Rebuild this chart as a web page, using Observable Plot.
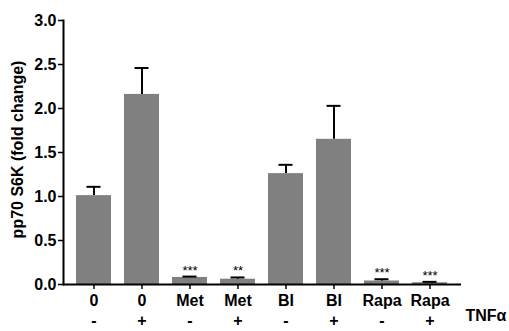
<!DOCTYPE html>
<html><head><meta charset="utf-8">
<script src="https://cdn.jsdelivr.net/npm/d3@7"></script>
<script src="https://cdn.jsdelivr.net/npm/@observablehq/plot@0.6"></script>
<style>body{margin:0;background:#fff}</style>
</head><body><div id="chart"></div>
<script>
const keys = ["0-", "0+", "Met-", "Met+", "BI-", "BI+", "Rapa-", "Rapa+"];
const treatments = ["0", "0", "Met", "Met", "BI", "BI", "Rapa", "Rapa"];
const tnf = ["-", "+", "-", "+", "-", "+", "-", "+"];
const means = [1.01, 2.16, 0.08, 0.06, 1.26, 1.65, 0.04, 0.02];
const sems = [0.10, 0.30, 0.01, 0.02, 0.10, 0.38, 0.02, 0.01];
const stars = ["", "", "***", "**", "", "", "***", "***"];
const yTicks = [0, 0.5, 1, 1.5, 2, 2.5, 3];
const yLabel = "pp70 S6K (fold change)";
const factorLabel = "TNFα";

const data = keys.map((k, i) => ({key: k, treatment: treatments[i], tnf: tnf[i], mean: means[i], sem: sems[i], star: stars[i]}));

const chart = Plot.plot({
  width: 509, height: 331,
  marginTop: 20, marginBottom: 47, marginLeft: 63, marginRight: 48,
  style: {fontFamily: "'Liberation Sans', Arial, sans-serif", fontSize: "16px", fontWeight: "bold", color: "#000", background: "#fff"},
  x: {domain: keys, padding: 0.27, label: null},
  y: {domain: [0, 3], label: null},
  marks: [
    Plot.barY(data, {x: "key", y: "mean", fill: "#808080"}),
    Plot.ruleX(data, {x: "key", y1: "mean", y2: d => d.mean + d.sem, strokeWidth: 2}),
    Plot.tickY(data, {x: "key", y: d => d.mean + d.sem, strokeWidth: 2, insetLeft: 10.5, insetRight: 10.5}),
    Plot.text(data, {x: "key", y: d => d.mean + d.sem, text: "star", lineAnchor: "bottom", dy: -2, fontSize: 13, fontWeight: "normal"}),
    Plot.frame({anchor: "left", strokeWidth: 2}),
    Plot.ruleY([0], {strokeWidth: 2}),
    Plot.axisY({ticks: yTicks, tickFormat: d => d.toFixed(1), tickSize: 5, tickPadding: 2, strokeWidth: 1.5, fontSize: 16, label: null}),
    Plot.text([yLabel], {frameAnchor: "left", textAnchor: "middle", lineAnchor: "middle", rotate: -90, dx: -46, dy: -3, fontSize: 16}),
    Plot.axisX({tickSize: 5, tickFormat: () => "", label: null, strokeWidth: 1.5}),
    Plot.text(data, {x: "key", y: 0, text: "treatment", dy: 16, fontSize: 16}),
    Plot.text(data, {x: "key", y: 0, text: "tnf", dy: 36, fontSize: 16}),
    Plot.text([factorLabel], {frameAnchor: "bottom-right", textAnchor: "start", dx: 4, dy: 36, fontSize: 16})
  ]
});
document.getElementById("chart").appendChild(chart);
</script>
</body></html>
